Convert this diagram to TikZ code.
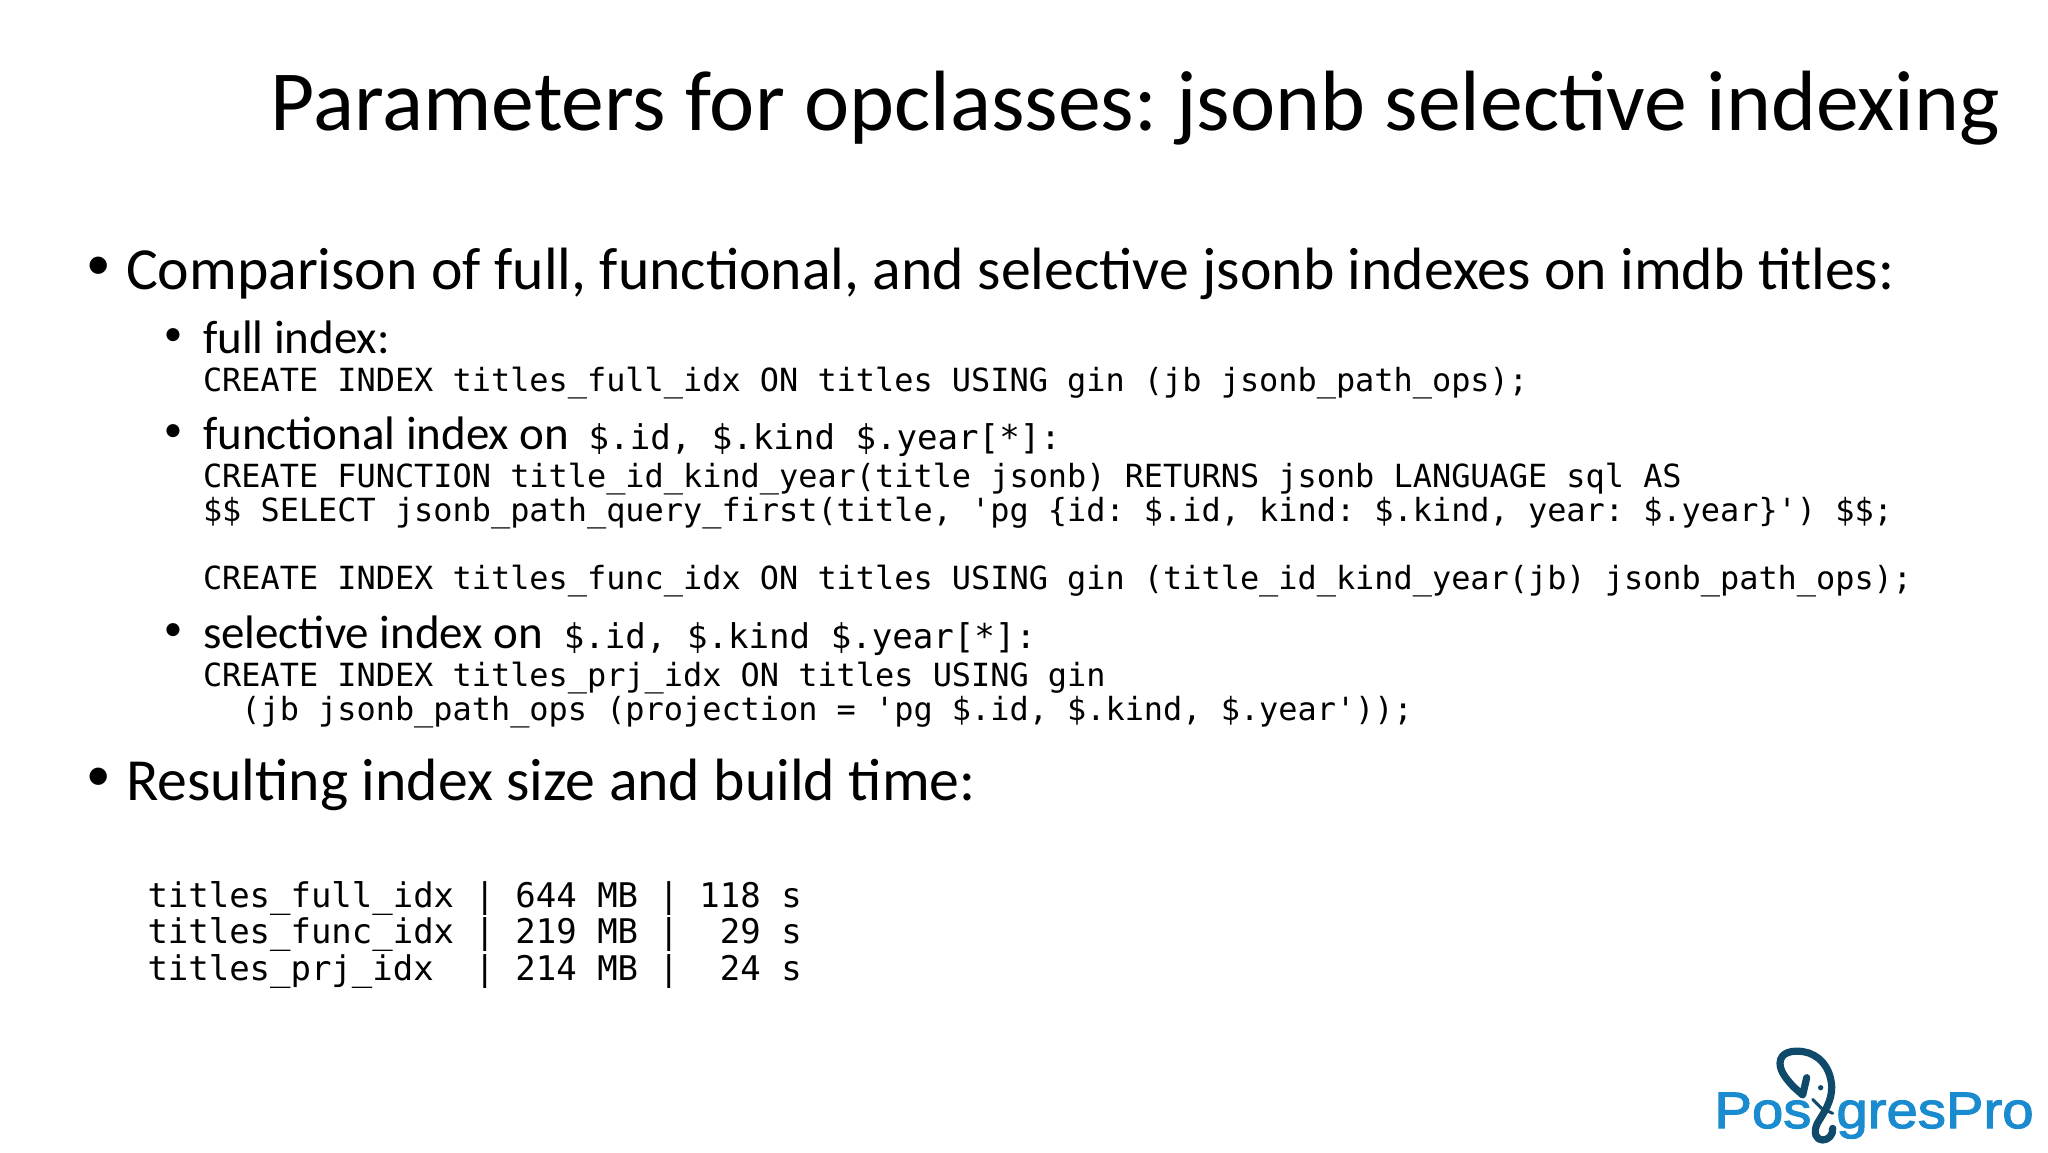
\documentclass[tikz,border=0pt]{standalone}
\usepackage{fontspec}
\setmainfont{Carlito}
\newfontfamily\codefont{DejaVu Sans Mono}
\newfontfamily\logofont[FakeBold=2.2,FakeStretch=1.1]{Liberation Sans}
\definecolor{logoblue}{HTML}{1A8BCE}
\definecolor{logodark}{HTML}{0F4A6B}
\tikzset{
    textline/.style={anchor=base west,inner sep=0pt,outer sep=0pt,execute at begin node=\frenchspacing},
    titleline/.style={anchor=base east,inner sep=0pt,execute at begin node=\frenchspacing,font=\fontsize{42.8}{50}\selectfont},
    mainitem/.style={textline,font=\fontsize{29.87}{36}\selectfont},
    mainbullet/.style={textline,font=\fontsize{24.5}{30}\selectfont},
    subitem/.style={textline,font=\fontsize{23.5}{28}\selectfont},
    subbullet/.style={textline,font=\fontsize{18.5}{22}\selectfont},
    codeline/.style={textline,font=\codefont\fontsize{15.95}{19}\selectfont},
    tableline/.style={textline,font=\codefont\fontsize{16.98}{20}\selectfont},
    logotext/.style={anchor=base west,inner sep=0pt,text=logoblue,font=\logofont\fontsize{25.6}{30}\selectfont},
    trunk/.style={draw=logodark,line width=3.6pt,line cap=round,line join=round}
}
\newcommand{\inlinecode}[2]{\hspace{#1}{\codefont\fontsize{17.05}{20}\selectfont #2}}
\begin{document}
\begin{tikzpicture}[x=0.5pt,y=-0.5pt]
    \useasboundingbox (0,0) rectangle (2048,1152);

    % Title
    \node[titleline] (title) at (2000,130) {Parameters for opclasses: jsonb selective indexing};

    % First level
    \node[mainbullet] (bulletcmp) at (86,279) {•};
    \node[mainitem] (compare) at (126,289) {Comparison of full, functional, and selective jsonb indexes on imdb titles:};

    % Full index
    \node[subbullet] (bulletfull) at (163.8,345) {•};
    \node[subitem] (full) at (203,353) {full index:};
    \node[codeline] (fullcode) at (203,391) {CREATE INDEX titles\_full\_idx ON titles USING gin (jb jsonb\_path\_ops);};

    % Functional index
    \node[subbullet] (bulletfunc) at (163.8,441) {•};
    \node[subitem] (func) at (203,449) {functional index on\inlinecode{9.6pt}{\$.id, \$.kind \$.year[*]:}};
    \node[codeline] (funccodea) at (203,487) {CREATE FUNCTION title\_id\_kind\_year(title jsonb) RETURNS jsonb LANGUAGE sql AS};
    \node[codeline] (funccodeb) at (203,521) {\$\$ SELECT jsonb\_path\_query\_first(title, 'pg \{id: \$.id, kind: \$.kind, year: \$.year\}') \$\$;};
    \node[codeline] (funccodec) at (203,589.5) {CREATE INDEX titles\_func\_idx ON titles USING gin (title\_id\_kind\_year(jb) jsonb\_path\_ops);};

    % Selective index
    \node[subbullet] (bulletprj) at (163.8,640) {•};
    \node[subitem] (prj) at (203,648) {selective index on\inlinecode{10.4pt}{\$.id, \$.kind \$.year[*]:}};
    \node[codeline] (prjcodea) at (203,686) {CREATE INDEX titles\_prj\_idx ON titles USING gin};
    \node[codeline] (prjcodeb) at (241.4,720.5) {(jb jsonb\_path\_ops (projection = 'pg \$.id, \$.kind, \$.year'));};

    % Results
    \node[mainbullet] (bulletres) at (86,790) {•};
    \node[mainitem] (results) at (126,800) {Resulting index size and build time:};
    \node[tableline] (rowfull) at (147.5,907) {titles\_full\_idx | 644 MB | 118 s};
    \node[tableline] (rowfunc) at (147.5,943) {titles\_func\_idx | 219 MB |~~29 s};
    \node[tableline] (rowprj) at (147.5,980) {titles\_prj\_idx~~| 214 MB |~~24 s};

    % Logo
    \node[logotext] (logopos) at (1714,1128) {Pos};
    \node[logotext] (logogres) at (1836,1128) {gresPro};
    \begin{scope}[shift={(1760,1040)},x=0.16667pt,y=-0.16667pt]
        \draw[trunk] (140,113) -- (128,165) -- (100,140) .. controls (80,118) and (60,95) .. (60,70)
            .. controls (60,35) and (100,30) .. (130,35)
            .. controls (175,42) and (212,80) .. (215,140)
            .. controls (216,185) and (190,220) .. (172,250)
            .. controls (158,280) and (170,300) .. (187,300)
            .. controls (205,300) and (220,285) .. (218,265);
        \draw[draw=logodark,line width=1.5pt,line cap=round] (158,178) -- (185,205) -- (218,220);
        \fill[logodark] (182,143) circle[radius=8];
    \end{scope}
\end{tikzpicture}
\end{document}
